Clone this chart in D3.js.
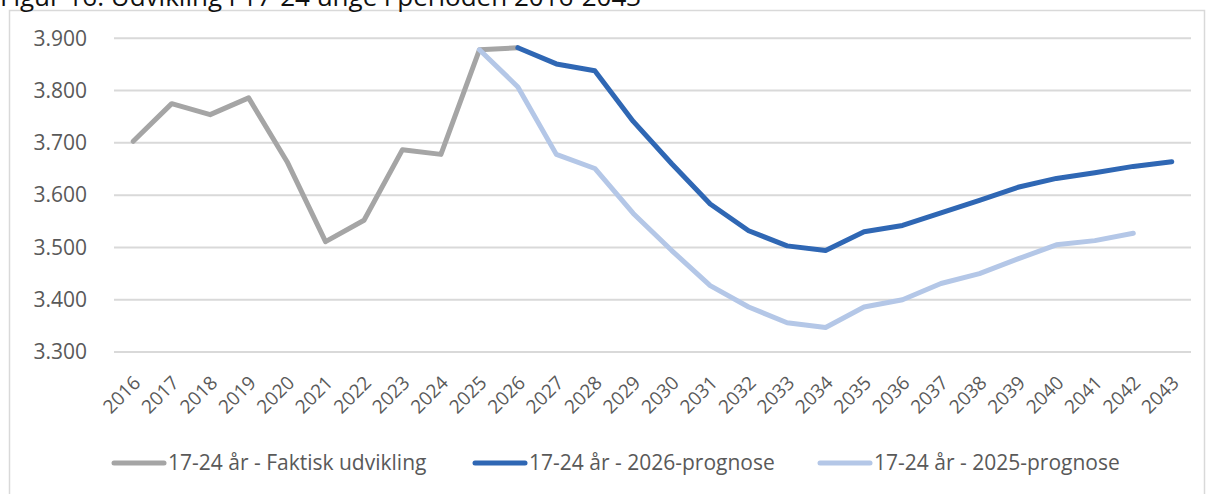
<!DOCTYPE html>
<html><head><meta charset="utf-8">
<script src="https://cdn.jsdelivr.net/npm/d3@7"></script>
<style>
html,body{margin:0;padding:0;background:#fff;}
svg{display:block;}
text{font-family:"Open Sans","Segoe UI",sans-serif;}
</style></head>
<body>
<svg id="chart" width="1207" height="494"></svg>
<script>
const years = [2016,2017,2018,2019,2020,2021,2022,2023,2024,2025,2026,2027,2028,2029,2030,2031,2032,2033,2034,2035,2036,2037,2038,2039,2040,2041,2042,2043];
const actualYears = [2016,2017,2018,2019,2020,2021,2022,2023,2024,2025,2026];
const actualValues = [3703,3775,3754,3786,3664,3511,3552,3687,3678,3878,3882];
const prog2026Years = [2026,2027,2028,2029,2030,2031,2032,2033,2034,2035,2036,2037,2038,2039,2040,2041,2042,2043];
const prog2026Values = [3882,3851,3838,3741,3660,3583,3532,3503,3494,3530,3542,3566,3590,3615,3632,3643,3655,3664];
const prog2025Years = [2025,2026,2027,2028,2029,2030,2031,2032,2033,2034,2035,2036,2037,2038,2039,2040,2041,2042];
const prog2025Values = [3878,3807,3678,3651,3565,3494,3427,3386,3356,3347,3386,3400,3431,3450,3478,3505,3513,3527];
const yTicks = [3300,3400,3500,3600,3700,3800,3900];
const seriesNames = ["17-24 år - Faktisk udvikling","17-24 år - 2026-prognose","17-24 år - 2025-prognose"];
const seriesColors = ["#A5A5A5","#2F67B4","#B4C7E7"];
const titleText = "Figur 16: Udvikling i 17-24 unge i perioden 2016-2043";

const svg = d3.select("#chart");
const fmt = v => d3.format(",")(v).replace(",", ".");

// chart border
svg.append("rect").attr("x",9.5).attr("y",10.5).attr("width",1195).attr("height",500)
  .attr("fill","none").attr("stroke","#d9d9d9").attr("stroke-width",1.5);

// title (cut at top, as in the reference)
svg.append("text").attr("x",0).attr("y",6).attr("font-size",26).attr("fill","#111")
  .text(titleText);

const x = d3.scalePoint().domain(years).range([114,1191]).padding(0.5);
const y = d3.scaleLinear().domain([3300,3900]).range([352,38.3]);

// gridlines
svg.append("g").selectAll("line").data(yTicks).join("line")
  .attr("x1",114).attr("x2",1191)
  .attr("y1",d=>y(d)).attr("y2",d=>y(d))
  .attr("stroke","#d9d9d9").attr("stroke-width",2);

// y axis labels
const yAxis = d3.axisLeft(y).tickValues(yTicks).tickFormat(fmt).tickSize(0).tickPadding(0);
const yg = svg.append("g").attr("transform","translate(87,0)").call(yAxis);
yg.select(".domain").remove();
yg.selectAll("text").attr("font-size",21).attr("fill","#595959").style("font-family","'Open Sans',sans-serif");

// x axis labels
const xAxis = d3.axisBottom(x).tickSize(0).tickPadding(0);
const xg = svg.append("g").attr("transform","translate(0,352)").call(xAxis);
xg.select(".domain").remove();
xg.selectAll("text")
  .attr("font-size",19).attr("fill","#595959").style("font-family","'Open Sans',sans-serif")
  .attr("text-anchor","end").attr("dy",null).attr("y",0)
  .attr("transform","translate(8,32) rotate(-45)");

const line = d3.line().x(d=>x(d[0])).y(d=>y(d[1]));
const series = [
  d3.zip(actualYears, actualValues),
  d3.zip(prog2026Years, prog2026Values),
  d3.zip(prog2025Years, prog2025Values)
];
series.forEach((s,i)=>{
  svg.append("path").datum(s).attr("d",line)
    .attr("fill","none").attr("stroke",seriesColors[i]).attr("stroke-width",5)
    .attr("stroke-linejoin","round").attr("stroke-linecap","round");
});

// legend
const legendX = [112,473,818];
const lg = svg.append("g");
seriesNames.forEach((n,i)=>{
  lg.append("line").attr("x1",legendX[i]+2).attr("x2",legendX[i]+52)
    .attr("y1",463).attr("y2",463).attr("stroke",seriesColors[i]).attr("stroke-width",5)
    .attr("stroke-linecap","round");
  lg.append("text").attr("x",legendX[i]+56).attr("y",463).attr("dy","0.35em")
    .attr("font-size",21).attr("fill","#595959").text(n);
});
</script>
</body></html>
